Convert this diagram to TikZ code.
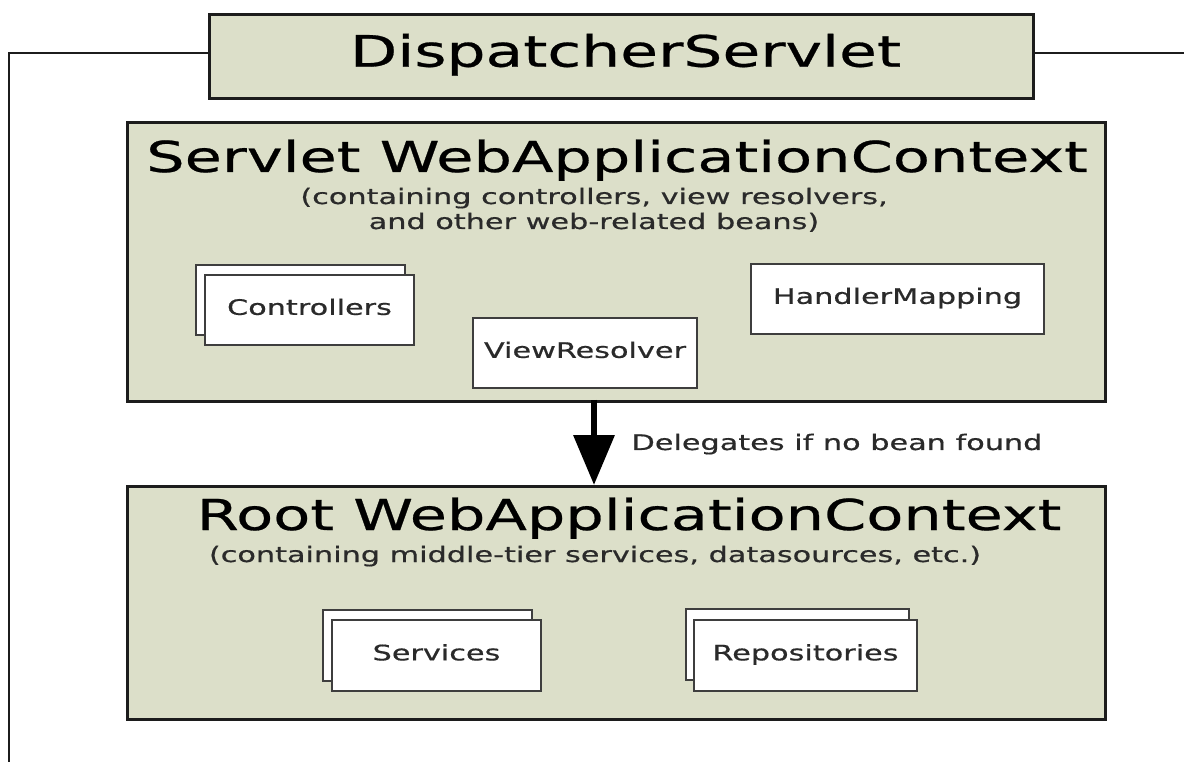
\documentclass[tikz,border=0pt]{standalone}
\usepackage{fontspec}
\setmainfont{DejaVu Sans}[FakeStretch=1.42,FakeBold=0.6]
\usetikzlibrary{arrows.meta}

\definecolor{ctxfill}{RGB}{220,223,201}
\definecolor{ctxline}{RGB}{28,28,28}
\definecolor{beanline}{RGB}{62,62,62}
\definecolor{beantext}{RGB}{42,42,42}

\tikzset{every picture/.style={line width=0.75pt}}
\tikzset{
	ctxbox/.style={draw=ctxline, line width=2.2pt, fill=ctxfill, anchor=north west, inner sep=0pt},
	beanbox/.style={draw=beanline, line width=1.5pt, fill=white, anchor=north west, inner sep=0pt,
		text=beantext, font=\fontsize{16}{19}\selectfont, text height=0.73em, text depth=0pt},
	titletext/.style={anchor=base, inner sep=0pt, font=\fontsize{32}{38}\selectfont},
	subtext/.style={anchor=base, inner sep=0pt, text=beantext, font=\fontsize{16}{18.75}\selectfont},
	frameline/.style={draw=ctxline, line width=1.8pt},
	delegate/.style={draw=black, line width=5pt, -{Triangle[length=37.5pt,width=30pt]}}
}

\begin{document}
\begin{tikzpicture}[x=0.75pt,y=0.75pt,yscale=-1,xscale=1]
	\useasboundingbox (0,0) rectangle (1184,762);

	%Shape: Rectangle [DispatcherServlet]
	\node[ctxbox, minimum width=618pt, minimum height=63pt] (disp) at (208,12.7) {};
	% Text Node
	\node[titletext, font=\fontsize{32.5}{38}\selectfont] (disptxt) at (625.5,66.7) {DispatcherServlet};

	%Straight Lines [outer frame]
	\coordinate (frametl) at (9,53);
	\coordinate (framebl) at (9,762);
	\coordinate (frametr) at (1184,53);
	\draw[frameline] (disp.west |- frametl) -- (frametl) -- (framebl);
	\draw[frameline] (disp.east |- frametr) -- (frametr);

	%Shape: Rectangle [Servlet WebApplicationContext]
	\node[ctxbox, minimum width=733.5pt, minimum height=209.5pt] (servlet) at (126,120.7) {};
	% Text Node
	\node[titletext] (servlettxt) at (617,172) {Servlet WebApplicationContext};
	% Text Node (base is the second line)
	\node[subtext, align=center] (servletsub) at (594,229) {(containing controllers, view resolvers,\\and other web-related beans)};

	%Shape: Stacked Rectangles [Controllers]
	\node[beanbox, minimum width=156.75pt, minimum height=52.5pt] (ctrlback) at (195,264) {};
	\node[beanbox, minimum width=156.75pt, minimum height=52.5pt] (ctrl) at (204,274) {Controllers};
	%Shape: Rectangle [ViewResolver]
	\node[beanbox, minimum width=168pt, minimum height=52.5pt] (viewres) at (472,317) {ViewResolver};
	%Shape: Rectangle [HandlerMapping]
	\node[beanbox, minimum width=219.75pt, minimum height=52.5pt] (handler) at (750,263) {HandlerMapping};

	%Shape: Rectangle [Root WebApplicationContext]
	\node[ctxbox, minimum width=733.5pt, minimum height=174.75pt] (root) at (126,485) {};
	% Text Node
	\node[titletext] (roottxt) at (629,530) {Root WebApplicationContext};
	% Text Node
	\node[subtext] (rootsub) at (595,562) {(containing middle-tier services, datasources, etc.)};

	%Shape: Stacked Rectangles [Services]
	\node[beanbox, minimum width=156.75pt, minimum height=53.25pt] (svcback) at (322,609) {};
	\node[beanbox, minimum width=156.75pt, minimum height=53.25pt] (svc) at (331,619) {Services};
	%Shape: Stacked Rectangles [Repositories]
	\node[beanbox, minimum width=167.25pt, minimum height=53.25pt] (repoback) at (685,608) {};
	\node[beanbox, minimum width=167.25pt, minimum height=53.25pt] (repo) at (693,619) {Repositories};

	%Straight Lines [delegation]
	\coordinate (dlg) at (594,400);
	\draw[delegate] (dlg) -- (dlg |- root.north);
	% Text Node
	\node[subtext, anchor=base west] (dlgtxt) at (631,450) {Delegates if no bean found};

\end{tikzpicture}
\end{document}
